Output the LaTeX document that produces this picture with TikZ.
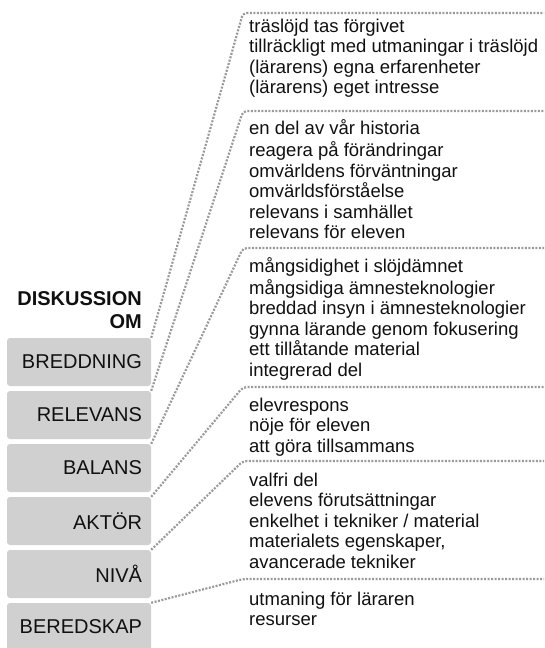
\documentclass[tikz,border=0pt]{standalone}
\usepackage{fontspec}
\setmainfont{Liberation Sans}
\definecolor{boxgray}{HTML}{D0D0D0}
\definecolor{linegray}{HTML}{9A9A9A}
\definecolor{ink}{HTML}{101010}
\begin{document}
\begin{tikzpicture}[x=1pt,y=-1pt,
  catbox/.style={fill=boxgray, rounded corners=3pt, minimum width=144pt,
    minimum height=48pt, inner xsep=9pt, inner ysep=0pt, text width=126pt,
    align=right, text=ink, font=\fontsize{20}{24}\selectfont},
  itemtext/.style={anchor=north west, inner sep=0pt, align=left, text=ink,
    font=\fontsize{18.5}{20.5}\selectfont},
  link/.style={draw=linegray, line width=2.2pt, dash pattern=on 2pt off 1.5pt,
    rounded corners=4pt}]
\useasboundingbox (0,0) rectangle (544,648);

% heading (base anchor sits on the last line)
\node[anchor=base east, inner sep=0pt, align=right, text=ink,
  font=\fontsize{20}{23}\bfseries\selectfont] (head) at (142,328)
  {DISKUSSION\\OM};

% category boxes
\node[catbox] (b1) at (79,362) {BREDDNING};
\node[catbox] (b2) at (79,415) {RELEVANS};
\node[catbox] (b3) at (79,468) {BALANS};
\node[catbox] (b4) at (79,521) {AKTÖR};
\node[catbox] (b5) at (79,574) {NIVÅ};
\node[catbox] (b6) at (79,627) {BEREDSKAP};

% corners and right ends of the dotted rules
\coordinate (c1) at (243,13);  \coordinate (e1) at (544,13);
\coordinate (c2) at (243,111); \coordinate (e2) at (544,111);
\coordinate (c3) at (243,248); \coordinate (e3) at (544,248);
\coordinate (c4) at (243,387); \coordinate (e4) at (544,387);
\coordinate (c5) at (243,461); \coordinate (e5) at (544,461);
\coordinate (c6) at (243,579); \coordinate (e6) at (544,579);

% item lists; a strut fixes the first line's height at 14.35pt
\node[itemtext] (t1) at (249,17.65) {\strut träslöjd tas förgivet\\
  tillräckligt med utmaningar i träslöjd\\
  (lärarens) egna erfarenheter\\
  (lärarens) eget intresse};
\node[itemtext] (t2) at (249,119.65) {\strut en del av vår historia\\
  reagera på förändringar\\
  omvärldens förväntningar\\
  omvärldsförståelse\\
  relevans i samhället\\
  relevans för eleven};
\node[itemtext] (t3) at (249,257.15) {\strut mångsidighet i slöjdämnet\\
  mångsidiga ämnesteknologier\\
  breddad insyn i ämnesteknologier\\
  gynna lärande genom fokusering\\
  ett tillåtande material\\
  integrerad del};
\node[itemtext] (t4) at (249,396.65) {\strut elevrespons\\
  nöje för eleven\\
  att göra tillsammans};
\node[itemtext] (t5) at (249,471.65) {\strut valfri del\\
  elevens förutsättningar\\
  enkelhet i tekniker / material\\
  materialets egenskaper,\\
  avancerade tekniker};
\node[itemtext] (t6) at (249,590.65) {\strut utmaning för läraren\\
  resurser};

% dotted connectors
\draw[link] (b1.north east) -- (c1) -- (e1);
\draw[link] (b2.north east) -- (c2) -- (e2);
\draw[link] (b3.north east) -- (c3) -- (e3);
\draw[link] (b4.north east) -- (c4) -- (e4);
\draw[link] (b5.north east) -- (c5) -- (e5);
\draw[link] (b6.north east) -- (c6) -- (e6);
\end{tikzpicture}
\end{document}
